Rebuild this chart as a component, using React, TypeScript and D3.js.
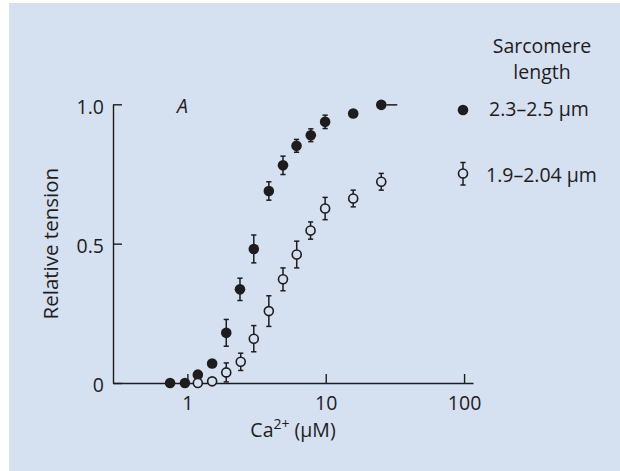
import React, { useEffect, useRef } from 'react';
import * as d3 from 'd3';

// Ca2+ concentration (uM) and relative tension, long sarcomeres (filled)
const caFilled = [0.75, 0.96, 1.19, 1.51, 1.91, 2.4, 3.02, 3.88, 4.91, 6.15, 7.8, 9.9, 15.8, 25.2];
const tensionFilled = [0, 0, 0.03, 0.07, 0.18, 0.336, 0.481, 0.689, 0.781, 0.851, 0.889, 0.937, 0.967, 0.998];
const errFilled = [0, 0, 0, 0, 0.048, 0.04, 0.05, 0.033, 0.033, 0.023, 0.023, 0.024, 0, 0];

// short sarcomeres (open)
const caOpen = [1.19, 1.51, 1.91, 2.43, 3.02, 3.88, 4.91, 6.17, 7.77, 9.9, 15.8, 25.2];
const tensionOpen = [0, 0.006, 0.038, 0.076, 0.159, 0.258, 0.372, 0.461, 0.547, 0.626, 0.662, 0.722];
const errOpen = [0, 0, 0.034, 0.031, 0.047, 0.055, 0.041, 0.048, 0.031, 0.04, 0.03, 0.03];

// the top filled point carries a one-sided dash
const dashAtCa = 25.2;

const xTicks = [1, 10, 100];
const yTicks = [0, 0.5, 1];
const yTickLabels = ['0', '0.5', '1.0'];
const legendTitle = ['Sarcomere', 'length'];
const legendLabels = ['2.3\u20132.5 \u03bcm', '1.9\u20132.04 \u03bcm'];

const W = 620;
const H = 471;
const BG = '#d5e0f1';
const INK = '#1f1c1d';
const FONT = '"Open Sans", sans-serif';
const FS = 19.5;

export default function App() {
  const ref = useRef<SVGSVGElement>(null);

  useEffect(() => {
    const svg = d3.select(ref.current);
    svg.selectAll('*').remove();

    svg.append('rect')
      .attr('x', 9).attr('y', 3)
      .attr('width', W - 9).attr('height', H - 3)
      .attr('fill', BG);

    const x = d3.scaleLog().domain([0.29, 116]).range([113, 473]);
    const y = d3.scaleLinear().domain([0, 1]).range([383, 104.3]);

    // axes
    const yAxis = svg.append('g')
      .attr('transform', `translate(${x.range()[0]},0)`)
      .call(d3.axisLeft(y)
        .tickValues(yTicks)
        .tickFormat((d, i) => yTickLabels[i])
        .tickSize(-9)
        .tickSizeOuter(0)
        .tickPadding(9));

    const xAxis = svg.append('g')
      .attr('transform', `translate(0,${y(0)})`)
      .call(d3.axisBottom(x)
        .tickValues(xTicks)
        .tickFormat(d3.format('d'))
        .tickSize(-9)
        .tickSizeOuter(0)
        .tickPadding(13));

    [yAxis, xAxis].forEach((g) => {
      g.attr('color', INK).attr('font-family', FONT).attr('font-size', FS);
      g.selectAll('path, line').attr('stroke-width', 1.4);
    });
    yAxis.selectAll('text').attr('dy', '0.46em');

    // axis titles
    svg.append('text')
      .attr('transform', `translate(58,${(y(0) + y(1)) / 2}) rotate(-90)`)
      .attr('text-anchor', 'middle')
      .attr('font-family', FONT).attr('font-size', 20.5).attr('fill', INK)
      .text('Relative tension');

    const xt = svg.append('text')
      .attr('x', 293).attr('y', 437)
      .attr('text-anchor', 'middle')
      .attr('font-family', FONT).attr('font-size', FS).attr('fill', INK);
    xt.append('tspan').text('Ca');
    xt.append('tspan').attr('font-size', 14).attr('dy', -8).text('2+');
    xt.append('tspan').attr('dy', 8).text(' (\u03bcM)');

    svg.append('text')
      .attr('x', 177).attr('y', 113)
      .attr('font-family', FONT).attr('font-size', FS).attr('font-style', 'italic').attr('fill', INK)
      .text('A');

    const errBars = (g: any, cx: number, cy0: number, cy1: number) => {
      g.append('line').attr('x1', cx).attr('x2', cx).attr('y1', cy0).attr('y2', cy1);
      g.append('line').attr('x1', cx - 2.6).attr('x2', cx + 2.6).attr('y1', cy0).attr('y2', cy0);
      g.append('line').attr('x1', cx - 2.6).attr('x2', cx + 2.6).attr('y1', cy1).attr('y2', cy1);
    };

    const bars = svg.append('g').attr('stroke', INK).attr('stroke-width', 1.5);
    caFilled.forEach((c, i) => {
      if (errFilled[i] > 0) errBars(bars, x(c), y(tensionFilled[i] - errFilled[i]), y(tensionFilled[i] + errFilled[i]));
    });
    caOpen.forEach((c, i) => {
      if (errOpen[i] > 0) errBars(bars, x(c), y(tensionOpen[i] - errOpen[i]), y(tensionOpen[i] + errOpen[i]));
    });
    const iDash = caFilled.indexOf(dashAtCa);
    bars.append('line')
      .attr('x1', x(dashAtCa) + 5).attr('x2', x(dashAtCa) + 16)
      .attr('y1', y(tensionFilled[iDash])).attr('y2', y(tensionFilled[iDash]));

    svg.append('g').selectAll('circle')
      .data(caFilled)
      .enter().append('circle')
      .attr('cx', (d) => x(d))
      .attr('cy', (d, i) => y(tensionFilled[i]))
      .attr('r', 5.3)
      .attr('fill', INK);

    svg.append('g').selectAll('circle')
      .data(caOpen)
      .enter().append('circle')
      .attr('cx', (d) => x(d))
      .attr('cy', (d, i) => y(tensionOpen[i]))
      .attr('r', 4.5)
      .attr('fill', BG)
      .attr('stroke', INK)
      .attr('stroke-width', 1.6);

    // legend
    const lg = svg.append('g').attr('font-family', FONT).attr('font-size', FS).attr('fill', INK);
    legendTitle.forEach((t, i) => {
      lg.append('text').attr('x', 542).attr('y', 53 + i * 26).attr('text-anchor', 'middle').text(t);
    });
    lg.append('circle').attr('cx', 463).attr('cy', 110).attr('r', 5.3).attr('fill', INK);
    lg.append('text').attr('x', 489).attr('y', 116).text(legendLabels[0]);

    const lgBars = lg.append('g').attr('stroke', INK).attr('stroke-width', 1.5);
    errBars(lgBars, 463, 162.5, 185);
    lg.append('circle').attr('cx', 463).attr('cy', 173.5).attr('r', 4.5)
      .attr('fill', BG).attr('stroke', INK).attr('stroke-width', 1.6);
    lg.append('text').attr('x', 486).attr('y', 182).text(legendLabels[1]);
  }, []);

  return (
    <svg ref={ref} width={W} height={H} style={{ position: 'absolute', left: 0, top: 0, display: 'block' }} />
  );
}
